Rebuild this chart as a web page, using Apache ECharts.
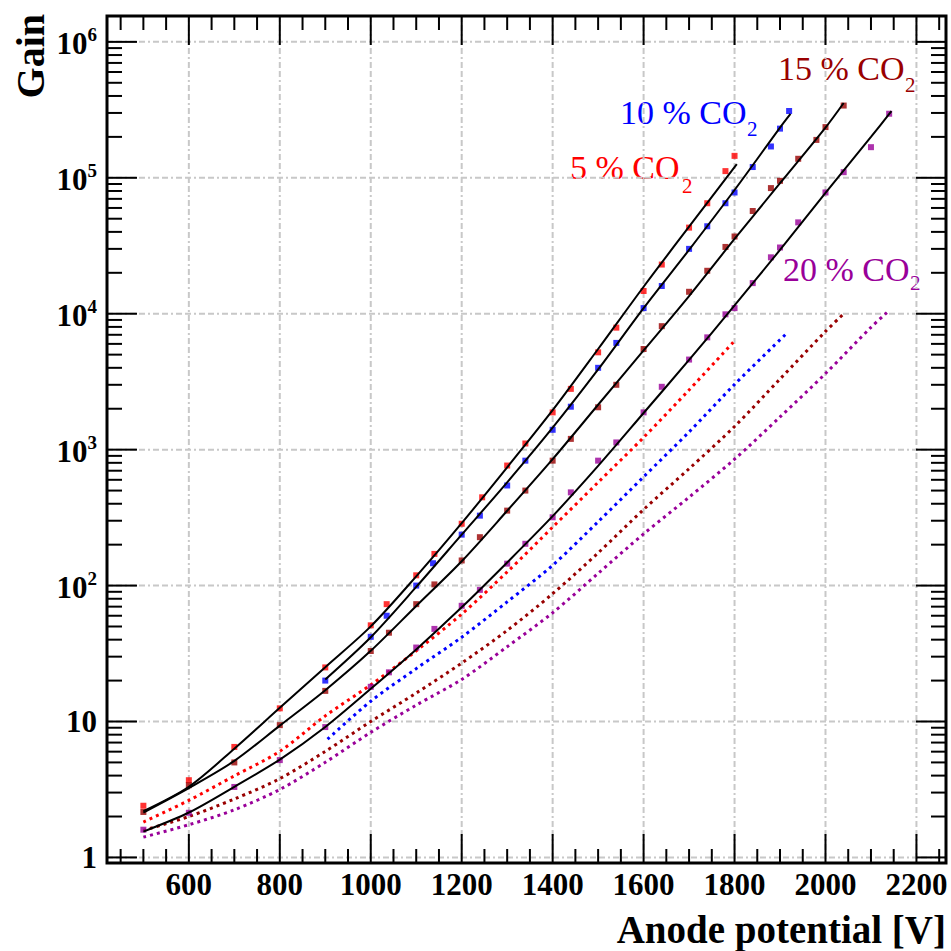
<!DOCTYPE html>
<html><head><meta charset="utf-8">
<script src="https://cdn.jsdelivr.net/npm/echarts@6/dist/echarts.min.js"></script>
<style>html,body{margin:0;padding:0;background:#fff}#c{width:951px;height:951px}</style>
</head><body><div id="c"></div>
<script>
// ---------------- data ----------------
const xTickMajor = [600, 800, 1000, 1200, 1400, 1600, 1800, 2000, 2200];
const xTickMinor = [450, 500, 550, 650, 700, 750, 850, 900, 950, 1050, 1100, 1150, 1250, 1300, 1350, 1450, 1500, 1550, 1650, 1700, 1750, 1850, 1900, 1950, 2050, 2100, 2150, 2250];
const yTickMajor = [1, 10, 100, 1000, 10000, 100000, 1000000];
const yTickMinor = [2, 3, 4, 5, 6, 7, 8, 9, 20, 30, 40, 50, 60, 70, 80, 90, 200, 300, 400, 500, 600, 700, 800, 900,
  2000, 3000, 4000, 5000, 6000, 7000, 8000, 9000, 20000, 30000, 40000, 50000, 60000, 70000, 80000, 90000,
  200000, 300000, 400000, 500000, 600000, 700000, 800000, 900000];

// measured points
const co2_5_V = [500, 600, 700, 800, 900, 1000, 1035, 1100, 1140, 1200, 1245, 1300, 1340, 1400, 1440, 1500, 1540, 1600, 1640, 1700, 1740, 1780, 1800];
const co2_5_G = [2.4, 3.7, 6.5, 12.5, 25, 51, 73, 119, 171, 285, 446, 764, 1110, 1880, 2800, 5200, 7900, 14700, 23000, 43000, 65000, 112000, 145000];
const co2_10_V = [900, 1000, 1035, 1100, 1137, 1200, 1240, 1300, 1340, 1400, 1440, 1500, 1540, 1600, 1640, 1700, 1740, 1780, 1800, 1840, 1880, 1900, 1920];
const co2_10_G = [20, 42, 60, 100, 146, 237, 327, 545, 830, 1400, 2070, 4000, 6100, 11000, 16000, 30000, 44000, 65000, 78000, 120000, 170000, 230000, 310000];
const co2_15_V = [500, 600, 700, 800, 900, 1000, 1040, 1100, 1140, 1200, 1240, 1300, 1340, 1400, 1440, 1500, 1540, 1600, 1640, 1700, 1740, 1780, 1800, 1840, 1880, 1900, 1940, 1980, 2000, 2040];
const co2_15_G = [2.16, 3.4, 5.0, 9.4, 16.8, 33, 45, 73, 102, 153, 227, 356, 500, 830, 1200, 2050, 3000, 5500, 8100, 14500, 20700, 31000, 37000, 57000, 84000, 95000, 138000, 190000, 236000, 340000];
const co2_20_V = [500, 600, 700, 800, 900, 1000, 1040, 1100, 1140, 1200, 1240, 1300, 1340, 1400, 1440, 1500, 1540, 1600, 1640, 1700, 1740, 1780, 1800, 1840, 1880, 1900, 1940, 2000, 2040, 2100, 2140];
const co2_20_G = [1.6, 2.13, 3.3, 5.2, 9.1, 18, 23, 35, 48, 71, 93, 145, 203, 318, 485, 830, 1130, 1880, 2900, 4600, 6700, 9900, 11000, 16800, 26000, 30700, 47000, 78000, 110000, 168000, 296000];

// fit curves (black)
const fit_5_V = [500, 600, 700, 800, 900, 1000, 1100, 1200, 1300, 1400, 1500, 1600, 1700, 1805];
const fit_5_G = [2.19, 3.31, 6.31, 12.6, 25.1, 50.1, 117, 288, 741, 1950, 5500, 15800, 43700, 126000];
const fit_10_V = [900, 1000, 1100, 1200, 1300, 1400, 1500, 1600, 1700, 1800, 1900, 1923];
const fit_10_G = [20.4, 41.7, 97.7, 237, 575, 1450, 3890, 11000, 29500, 81300, 234000, 295000];
const fit_15_V = [500, 600, 700, 800, 900, 1000, 1100, 1200, 1300, 1400, 1500, 1600, 1700, 1800, 1900, 2000, 2040];
const fit_15_G = [2.14, 3.24, 5.13, 9.33, 17.0, 33.1, 70.8, 151, 355, 851, 2140, 5370, 13500, 35500, 91200, 234000, 355000];
const fit_20_V = [500, 600, 700, 800, 900, 1000, 1100, 1200, 1300, 1400, 1500, 1600, 1700, 1800, 1900, 2000, 2100, 2145];
const fit_20_G = [1.55, 2.14, 3.31, 5.25, 9.12, 17.4, 33.9, 69.2, 148, 324, 759, 1860, 4570, 11500, 29500, 77600, 200000, 309000];

// simulation curves (dotted)
const sim_5_V = [500, 600, 700, 800, 900, 1000, 1100, 1200, 1300, 1400, 1500, 1600, 1700, 1800];
const sim_5_G = [1.82, 2.63, 3.98, 6.03, 11.0, 18.6, 33.1, 61.7, 126, 269, 575, 1230, 2750, 6310];
const sim_10_V = [905, 1000, 1100, 1200, 1300, 1400, 1500, 1600, 1700, 1800, 1916];
const sim_10_G = [7.41, 14.1, 24.5, 41.7, 75.9, 141, 295, 631, 1350, 3020, 7240];
const sim_15_V = [500, 600, 700, 800, 900, 1000, 1100, 1200, 1300, 1400, 1500, 1600, 1700, 1800, 1900, 2000, 2037];
const sim_15_G = [1.58, 2.0, 2.69, 3.80, 6.03, 10.0, 16.2, 26.9, 46.8, 87.1, 174, 363, 724, 1480, 3310, 7410, 9770];
const sim_20_V = [500, 600, 700, 800, 900, 1000, 1100, 1200, 1300, 1400, 1500, 1600, 1700, 1800, 1900, 2000, 2100, 2135];
const sim_20_G = [1.41, 1.74, 2.24, 3.16, 5.01, 8.32, 13.2, 20.4, 35.5, 63.1, 123, 240, 447, 851, 1740, 3630, 7940, 10200];

const mixLabels = ['5 % CO', '10 % CO', '15 % CO', '20 % CO'];
const mixColors = ['#ff0000', '#0000ff', '#990000', '#990099'];

// ---------------- chart ----------------
const FONT = '"Liberation Serif", "Times New Roman", serif';
const chart = echarts.init(document.getElementById('c'), null, {renderer: 'svg'});
const pairs = (V, G) => V.map((v, i) => [v, G[i]]);

const gridDash = [6, 3, 6, 3, 2, 3];
function gridItem(params, api) {
  const cs = params.coordSys;
  const L = cs.x, T = cs.y, R = cs.x + cs.width, B = cs.y + cs.height;
  const ch = [];
  const st = {stroke: '#c8c8c8', lineWidth: 2, lineDash: gridDash};
  xTickMajor.forEach(v => { const x = api.coord([v, 10])[0]; ch.push({type: 'line', shape: {x1: x, y1: T, x2: x, y2: B}, style: st}); });
  yTickMajor.forEach(v => { const y = api.coord([1000, v])[1]; ch.push({type: 'line', shape: {x1: L, y1: y, x2: R, y2: y}, style: st}); });
  return {type: 'group', children: ch};
}
function frameItem(params, api) {
  const cs = params.coordSys;
  const L = cs.x, T = cs.y, R = cs.x + cs.width, B = cs.y + cs.height;
  const ch = [];
  const st = {stroke: '#000', lineWidth: 2};
  const ln = (x1, y1, x2, y2) => ch.push({type: 'line', shape: {x1, y1, x2, y2}, style: st});
  xTickMajor.forEach(v => { const x = api.coord([v, 10])[0]; ln(x, B, x, B - 29); ln(x, T, x, T + 29); });
  xTickMinor.forEach(v => { const x = api.coord([v, 10])[0]; ln(x, B, x, B - 14); ln(x, T, x, T + 14); });
  yTickMajor.forEach(v => { const y = api.coord([1000, v])[1]; ln(L, y, L + 30, y); ln(R, y, R - 30, y); });
  yTickMinor.forEach(v => { const y = api.coord([1000, v])[1]; ln(L, y, L + 15, y); ln(R, y, R - 15, y); });
  ch.push({type: 'rect', shape: {x: L, y: T, width: cs.width, height: cs.height}, style: {fill: null, stroke: '#000', lineWidth: 3}});
  return {type: 'group', children: ch};
}

const series = [];
series.push({type: 'custom', renderItem: gridItem, data: [[1000, 10]], silent: true, z: 1});
const sims = [[sim_5_V, sim_5_G], [sim_10_V, sim_10_G], [sim_15_V, sim_15_G], [sim_20_V, sim_20_G]];
const meas = [[co2_5_V, co2_5_G], [co2_10_V, co2_10_G], [co2_15_V, co2_15_G], [co2_20_V, co2_20_G]];
const fits = [[fit_5_V, fit_5_G], [fit_10_V, fit_10_G], [fit_15_V, fit_15_G], [fit_20_V, fit_20_G]];
sims.forEach((s, i) => series.push({
  type: 'line', name: mixLabels[i] + '2 sim', data: pairs(s[0], s[1]), showSymbol: false, smooth: 0.3, z: 3,
  lineStyle: {color: mixColors[i], width: 3, type: [3, 4], cap: 'butt'}
}));
meas.forEach((s, i) => series.push({
  type: 'scatter', name: mixLabels[i] + '2', data: pairs(s[0], s[1]), symbol: 'rect', symbolSize: 6, z: 4,
  itemStyle: {color: mixColors[i]}
}));
fits.forEach((s, i) => series.push({
  type: 'line', name: mixLabels[i] + '2 fit', data: pairs(s[0], s[1]), showSymbol: false, smooth: 0.3, z: 5,
  lineStyle: {color: '#000', width: 2}
}));
series.push({type: 'custom', renderItem: frameItem, data: [[1000, 10]], silent: true, z: 10});

const labelPos = [[570, 178], [620, 123], [778, 79], [783, 280]];
const subPos = [[682, 193], [747, 136], [905, 92], [910, 290]];
const graphics = [];
mixLabels.forEach((t, i) => {
  graphics.push({type: 'text', x: labelPos[i][0], y: labelPos[i][1] - 11, style: {text: t, font: '34px ' + FONT, fill: mixColors[i], textAlign: 'left', textVerticalAlign: 'middle'}});
  graphics.push({type: 'text', x: subPos[i][0], y: subPos[i][1] - 7, style: {text: '2', font: '21px ' + FONT, fill: mixColors[i], textAlign: 'left', textVerticalAlign: 'middle'}});
});
graphics.push({type: 'text', x: 30, y: 14, rotation: Math.PI / 2, style: {text: 'Gain', font: 'bold 40px ' + FONT, fill: '#000', textAlign: 'right', textVerticalAlign: 'middle'}});
graphics.push({type: 'text', x: 946, y: 929, style: {text: 'Anode potential [V]', font: 'bold 39px ' + FONT, fill: '#000', textAlign: 'right', textVerticalAlign: 'middle'}});

chart.setOption({
  animation: false,
  backgroundColor: '#fff',
  grid: {left: 107, right: 5, top: 16, bottom: 88, containLabel: false},
  xAxis: {
    type: 'value', min: 420, max: 2265,
    axisLine: {show: false}, axisTick: {show: false}, splitLine: {show: false},
    axisLabel: {customValues: xTickMajor, margin: 6, fontFamily: FONT, fontSize: 31, fontWeight: 'bold', color: '#000', formatter: v => String(Math.round(v))}
  },
  yAxis: {
    type: 'log', logBase: 10, min: 0.91, max: 1.55e6,
    axisLine: {show: false}, axisTick: {show: false}, splitLine: {show: false},
    axisLabel: {
      customValues: yTickMajor, margin: 10, fontFamily: FONT, fontSize: 31, fontWeight: 'bold', color: '#000',
      formatter: v => { const n = Math.round(Math.log10(v)); if (n === 0) return '1'; if (n === 1) return '10'; return '{b|10}{s|' + n + '}'; },
      rich: {
        b: {fontFamily: FONT, fontSize: 31, fontWeight: 'bold', color: '#000', lineHeight: 34, verticalAlign: 'bottom'},
        s: {fontFamily: FONT, fontSize: 19, fontWeight: 'bold', color: '#000', lineHeight: 34, verticalAlign: 'top'}
      }
    }
  },
  graphic: graphics,
  series: series
});
</script></body></html>
